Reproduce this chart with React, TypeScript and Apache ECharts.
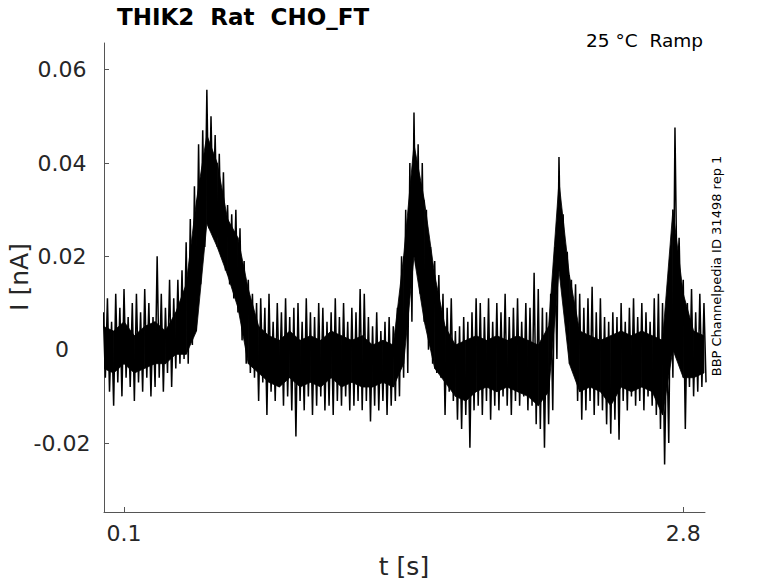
import { useEffect, useRef } from 'react'
import * as echarts from 'echarts'

// outer envelope of the recorded current (spike tips), one sample every 20 ms, in pA
const SAMPLE_DT = 0.02
const upperPA = [
  8, 11, 6, 12, 9, 13, 7, 10, 12, 8, 13, 10, 7, 20, 12, 9, 15, 11,
  15, 17, 23, 28, 35, 44, 47, 55.7, 50, 46, 42, 38, 31, 29, 30, 26, 19, 15, 12, 10, 11,
  9, 12, 6, 10, 8, 11, 7, 9, 10, 6, 11, 8, 7, 10, 9, 6, 8, 11, 7, 10, 6, 9, 8, 13, 12, 7, 5, 8, 4, 6, 7, 5, 9,
  20, 30, 40, 50.8, 44, 40, 30, 22, 19, 16, 12, 9, 11, 4, 5, 7, 6, 8, 11, 10, 7, 11, 6, 10, 8, 12, 7, 9, 11, 6, 10, 9, 16.5, 13, 9, 8, 12, 22,
  41.3, 29, 21, 15, 14, 12, 9, 11, 13.5, 8, 11, 7, 6, 8, 7, 10, 6, 9, 11, 7, 10, 8, 6, 11, 12, 10, 3, 22, 47.6, 24, 15, 10, 13, 8, 12, 10,
]
const lowerPA = [
  -6, -9, -12, -7, -10, -6, -8, -11, -7, -9, -6, -10, -8, -6, -9, -5, -8, -4,
  -3, -2, -3, 1, 7, 14, 22, 26, 29, 24, 20, 17, 14, 11, 8, 2, -3, -5, -6, -11, -7,
  -14, -9, -11, -8, -12, -10, -13, -18.6, -11, -13, -10, -14, -12, -10, -13, -12, -14, -11, -12, -10, -13, -12, -11, -13, -11, -15.4, -12, -13, -11, -14, -12, -11, -10,
  -6, -5, 6, 18, 12, 6, 0, -3, -5, -6, -14, -9, -11, -15, -17, -14, -21, -13, -12, -14, -11, -15, -12, -13, -10, -12, -14, -11, -12, -10, -13, -12, -16, -17, -21, -16, -13, -2,
  16, 11, 6, -4, -11, -15, -13, -11, -14, -12, -13, -16, -18, -15, -19.3, -11, -13, -10, -12, -11, -13, -10, -12, -14, -17, -24.6, -20, -6, 13, 3, -17, -8, -10, -9, -8, -7,
]

// solid core of the noisy trace, one sample every 50 ms, in pA
const CORE_DT = 0.05
const coreUpperPA = [
  5, 4, 6, 3, 5, 6, 4, 8, 14, 32, 46, 40, 28, 24, 13, 5,
  3, 2, 4, 2, 3, 2, 4, 3, 2, 3, 1, 2, 1,
  20, 44, 32, 16, 5, 1, 2, 3, 2, 3, 2, 3, 2, 1, 5,
  36, 16, 4, 3, 2, 3, 4, 3, 4, 3, 2, 30, 12, 4, 3,
]
const coreLowerPA = [
  -4, -5, -3, -5, -4, -3, -3, -1, -1, 4, 27, 22, 16, 9, -3, -5,
  -7, -8, -6, -8, -7, -8, -6, -8, -7, -8, -8, -7, -8,
  -3, 20, 6, -4, -7, -10, -11, -9, -8, -9, -8, -9, -10, -12, -9,
  17, -3, -9, -8, -9, -12, -8, -9, -8, -9, -14, 0, -6, -6, -5,
]

const yTicks = [-0.02, 0, 0.02, 0.04, 0.06]
const xTicks = [0.1, 2.8]

const FONT = '"DejaVu Sans", sans-serif'
const AXIS_GREY = '#555'
const LABEL_GREY = '#262626'

function traceData() {
  const pts: number[][] = []
  upperPA.forEach((hi, i) => {
    const t = i * SAMPLE_DT
    pts.push([t, hi / 1000])
    pts.push([t + SAMPLE_DT / 2, lowerPA[i] / 1000])
  })
  return pts
}

const coreData = coreUpperPA.map((hi, k) => [k * CORE_DT, hi / 1000, coreLowerPA[k] / 1000])

export default function App() {
  const chartRef = useRef<HTMLDivElement>(null)

  useEffect(() => {
    document.body.style.margin = '0'
    if (!chartRef.current) return
    const chart = echarts.init(chartRef.current, null, { renderer: 'svg' })

    chart.setOption({
      animation: false,
      grid: { left: 104, right: 73, top: 43, bottom: 71 },
      xAxis: {
        type: 'value',
        min: 0.0034,
        max: 2.905,
        axisLine: { onZero: false, lineStyle: { color: AXIS_GREY, width: 1 } },
        axisTick: { inside: true, length: 5, customValues: xTicks, lineStyle: { color: AXIS_GREY } },
        axisLabel: {
          customValues: xTicks,
          margin: 10,
          color: LABEL_GREY,
          fontFamily: FONT,
          fontSize: 22,
          formatter: (v: number) => String(v),
        },
        splitLine: { show: false },
      },
      yAxis: {
        type: 'value',
        min: -0.03478,
        max: 0.06572,
        axisLine: { show: true, onZero: false, lineStyle: { color: AXIS_GREY, width: 1 } },
        axisTick: { show: true, inside: true, length: 5, customValues: yTicks, lineStyle: { color: AXIS_GREY } },
        axisLabel: {
          customValues: yTicks,
          margin: 42,
          align: 'center',
          color: LABEL_GREY,
          fontFamily: FONT,
          fontSize: 22,
          formatter: (v: number) => String(v),
        },
        splitLine: { show: false },
      },
      series: [
        {
          type: 'custom',
          clip: true,
          data: coreData,
          renderItem: (params: any, api: any) => {
            const k = params.dataIndex
            if (k >= coreData.length - 1) return null
            const a = coreData[k]
            const b = coreData[k + 1]
            const points = [
              api.coord([a[0], a[1]]),
              api.coord([b[0], b[1]]),
              api.coord([b[0], b[2]]),
              api.coord([a[0], a[2]]),
            ]
            return {
              type: 'polygon',
              shape: { points },
              style: { fill: '#000', stroke: '#000', lineWidth: 0.8 },
            }
          },
        },
        {
          type: 'line',
          data: traceData(),
          showSymbol: false,
          symbol: 'none',
          lineStyle: { color: '#000', width: 1.5 },
          clip: true,
        },
      ],
      graphic: [
        {
          type: 'text',
          left: 117,
          top: 5,
          style: { text: 'THIK2  Rat  CHO_FT', font: `bold 23px ${FONT}`, fill: '#000' },
        },
        {
          type: 'text',
          x: 703,
          y: 40,
          style: {
            text: '25 °C  Ramp',
            font: `18.5px ${FONT}`,
            fill: '#000',
            textAlign: 'right',
            textVerticalAlign: 'middle',
          },
        },
        {
          type: 'text',
          x: 19,
          y: 277,
          rotation: Math.PI / 2,
          style: {
            text: 'I [nA]',
            font: `25px ${FONT}`,
            fill: LABEL_GREY,
            textAlign: 'center',
            textVerticalAlign: 'middle',
          },
        },
        {
          type: 'text',
          x: 404,
          y: 566,
          style: {
            text: 't [s]',
            font: `25px ${FONT}`,
            fill: LABEL_GREY,
            textAlign: 'center',
            textVerticalAlign: 'middle',
          },
        },
        {
          type: 'text',
          x: 716,
          y: 266,
          rotation: Math.PI / 2,
          style: {
            text: 'BBP Channelpedia ID 31498 rep 1',
            font: `13px ${FONT}`,
            fill: '#000',
            textAlign: 'center',
            textVerticalAlign: 'middle',
          },
        },
      ],
    })

    return () => {
      chart.dispose()
    }
  }, [])

  return <div ref={chartRef} style={{ width: '778px', height: '583px' }}></div>
}
